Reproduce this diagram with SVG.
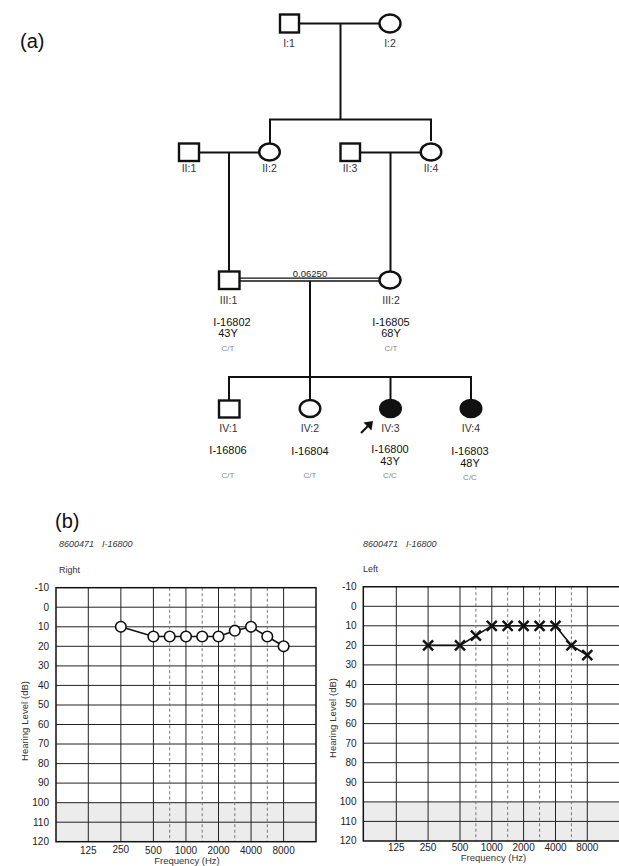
<svg xmlns="http://www.w3.org/2000/svg" width="619" height="866" viewBox="0 0 619 866">
<style>
text{font-family:"Liberation Sans",Arial,sans-serif}
.pl{stroke:#111;stroke-width:2;fill:none}
.sym{stroke:#111;stroke-width:2.4;fill:#fff}
.aff{stroke:#111;stroke-width:2;fill:#111}
.gl{font-size:10.5px;fill:#333;text-anchor:middle}
.id{font-size:11px;fill:#111;text-anchor:middle}
.gt{font-size:8px;fill:#888;text-anchor:middle}
.panel{font-size:20px;fill:#111}
.hdr{font-size:9px;fill:#333;font-style:italic}
.side{font-size:9px;fill:#333}
.tk{font-size:10px;fill:#222;text-anchor:end}
.fq{font-size:10px;fill:#222;text-anchor:middle}
.ax{font-size:9.5px;fill:#333;text-anchor:middle}
.grid{stroke:#222;stroke-width:1}
.dash{stroke:#777;stroke-width:1;stroke-dasharray:3,2.5}
.frame{fill:none;stroke:#111;stroke-width:1.5}
.shade{fill:#ececec}
.curve{stroke:#111;stroke-width:1.6;fill:none}
.oc{fill:#fff;stroke:#111;stroke-width:1.6}
.xm{stroke:#111;stroke-width:2.4;fill:none}
</style>
<defs>
<g id="xmark"><path class="xm" d="M-5,-5L5,5M-5,5L5,-5"/></g>
</defs>

<text class="panel" x="20" y="48">(a)</text>
<text class="panel" x="55" y="528">(b)</text>

<g id="connectors">
<path class="pl" d="M299,23.5H379"/>
<path class="pl" d="M340.5,23.5V119.5"/>
<path class="pl" d="M270,143V119.5H431V141"/>
<path class="pl" d="M199,152.5H259"/>
<path class="pl" d="M229,152.5V271"/>
<path class="pl" d="M360,152.5H420"/>
<path class="pl" d="M390.5,152.5V271"/>
<path stroke="#111" stroke-width="1.3" fill="none" d="M240,278.2H379.5M240,281H379.5"/>
<path class="pl" d="M310,281V377"/>
<path class="pl" d="M229,400V377H471V400"/>
<path class="pl" d="M310,377V400"/>
<path class="pl" d="M390.5,377V400"/>
<path stroke="#111" stroke-width="2.2" fill="none" d="M361,433L369,425"/>
<path fill="#111" d="M373,421L371.5,430.5L363.5,422.5Z"/>
</g>
<text x="310" y="277" style="font-size:9.5px;fill:#222;text-anchor:middle">0.06250</text>

<g id="I1"><rect class="sym" x="280" y="14.5" width="19" height="18"/><text class="gl" x="289" y="47">I:1</text></g>
<g id="I2"><ellipse class="sym" cx="390" cy="23.5" rx="10.5" ry="9"/><text class="gl" x="390" y="47">I:2</text></g>
<g id="II1"><rect class="sym" x="179" y="143.5" width="20" height="17.5"/><text class="gl" x="189" y="172">II:1</text></g>
<g id="II2"><ellipse class="sym" cx="269.5" cy="152" rx="10.3" ry="8.5"/><text class="gl" x="269.5" y="172">II:2</text></g>
<g id="II3"><rect class="sym" x="340.5" y="143.5" width="19.5" height="17.5"/><text class="gl" x="350" y="172">II:3</text></g>
<g id="II4"><ellipse class="sym" cx="431" cy="152" rx="10.3" ry="8.5"/><text class="gl" x="431" y="172">II:4</text></g>
<g id="III1"><rect class="sym" x="219" y="271.5" width="20.5" height="17.5"/><text class="gl" x="228.5" y="304">III:1</text>
<text class="id" x="232" y="325.5">I-16802</text><text class="id" x="228" y="337">43Y</text><text class="gt" x="228" y="351">C/T</text></g>
<g id="III2"><ellipse class="sym" cx="390" cy="280" rx="10.5" ry="8.5"/><text class="gl" x="391" y="304">III:2</text>
<text class="id" x="391" y="325.5">I-16805</text><text class="id" x="391" y="337">68Y</text><text class="gt" x="391" y="351">C/T</text></g>
<g id="IV1"><rect class="sym" x="219" y="400.5" width="20.5" height="17"/><text class="gl" x="228.5" y="432">IV:1</text>
<text class="id" x="228" y="454">I-16806</text><text class="gt" x="228" y="478">C/T</text></g>
<g id="IV2"><ellipse class="sym" cx="310" cy="408.5" rx="10.3" ry="8.5"/><text class="gl" x="310" y="432">IV:2</text>
<text class="id" x="310" y="455">I-16804</text><text class="gt" x="310" y="478">C/T</text></g>
<g id="IV3"><ellipse class="aff" cx="390.5" cy="408.5" rx="10.5" ry="8.8"/><text class="gl" x="390.5" y="432">IV:3</text>
<text class="id" x="390" y="453">I-16800</text><text class="id" x="390" y="465">43Y</text><text class="gt" x="390" y="478">C/C</text></g>
<g id="IV4"><ellipse class="aff" cx="471" cy="408.5" rx="10.5" ry="8.8"/><text class="gl" x="471" y="432">IV:4</text>
<text class="id" x="470" y="455">I-16803</text><text class="id" x="470" y="467">48Y</text><text class="gt" x="470" y="480">C/C</text></g>

<g id="audiogram-right">
<text class="hdr" x="59" y="547">8600471<tspan dx="8">I-16800</tspan></text>
<text class="side" x="59" y="573">Right</text>
<rect class="shade" x="56" y="802.7" width="260" height="39"/>
<g class="grid">
<path d="M56,607.2H316M56,626.8H316M56,646.3H316M56,665.9H316M56,685.4H316M56,705H316M56,724.5H316M56,744H316M56,763.6H316M56,783.1H316M56,802.7H316M56,822.2H316"/>
<path d="M88.3,587.7V841.7M120.85,587.7V841.7M153.4,587.7V841.7M185.95,587.7V841.7M218.5,587.7V841.7M251.05,587.7V841.7M283.6,587.7V841.7"/>
</g>
<path class="dash" d="M169.7,587.7V841.7M202.2,587.7V841.7M234.8,587.7V841.7M267.3,587.7V841.7"/>
<rect class="frame" x="56" y="587.7" width="260" height="254"/>
<g>
<text class="tk" x="49" y="591">-10</text><text class="tk" x="49" y="610.5">0</text><text class="tk" x="49" y="630">10</text>
<text class="tk" x="49" y="649.6">20</text><text class="tk" x="49" y="669.2">30</text><text class="tk" x="49" y="688.7">40</text>
<text class="tk" x="49" y="708.3">50</text><text class="tk" x="49" y="727.8">60</text><text class="tk" x="49" y="747.3">70</text>
<text class="tk" x="49" y="766.9">80</text><text class="tk" x="49" y="786.4">90</text><text class="tk" x="49" y="806">100</text>
<text class="tk" x="49" y="825.5">110</text><text class="tk" x="49" y="845">120</text>
</g>
<g>
<text class="fq" x="88.3" y="854">125</text><text class="fq" x="120.85" y="852.5">250</text><text class="fq" x="153.4" y="854">500</text>
<text class="fq" x="185.95" y="854">1000</text><text class="fq" x="218.5" y="854">2000</text><text class="fq" x="251.05" y="854">4000</text>
<text class="fq" x="283.6" y="854">8000</text>
</g>
<text class="ax" x="187" y="864">Frequency (Hz)</text>
<text class="ax" transform="translate(28,721) rotate(-90)">Hearing<tspan dx="3">Level</tspan><tspan dx="3">(dB)</tspan></text>
<polyline class="curve" points="120.85,626.8 153.4,636.5 169.7,636.5 186,636.5 202.2,636.5 218.5,636.5 234.8,630.7 251,626.8 267.3,636.5 283.6,646.3"/>
<g>
<circle class="oc" cx="120.85" cy="626.8" r="5.3"/><circle class="oc" cx="153.4" cy="636.5" r="5.3"/>
<circle class="oc" cx="169.7" cy="636.5" r="5.3"/><circle class="oc" cx="186" cy="636.5" r="5.3"/>
<circle class="oc" cx="202.2" cy="636.5" r="5.3"/><circle class="oc" cx="218.5" cy="636.5" r="5.3"/>
<circle class="oc" cx="234.8" cy="630.7" r="5.3"/><circle class="oc" cx="251" cy="626.8" r="5.3"/>
<circle class="oc" cx="267.3" cy="636.5" r="5.3"/><circle class="oc" cx="283.6" cy="646.3" r="5.3"/>
</g>
</g>

<g id="audiogram-left">
<text class="hdr" x="363" y="547">8600471<tspan dx="8">I-16800</tspan></text>
<text class="side" x="363" y="572">Left</text>
<rect class="shade" x="363.3" y="802.3" width="256" height="38.7"/>
<g class="grid">
<path d="M363.3,606.3H619M363.3,625.8H619M363.3,645.4H619M363.3,664.9H619M363.3,684.5H619M363.3,704H619M363.3,723.6H619M363.3,743.2H619M363.3,762.7H619M363.3,782.3H619M363.3,801.9H619M363.3,821.4H619"/>
<path d="M396.3,586.7V841M428.1,586.7V841M460,586.7V841M491.8,586.7V841M523.6,586.7V841M555.5,586.7V841M587.3,586.7V841"/>
</g>
<path class="dash" d="M475.9,586.7V841M507.7,586.7V841M539.6,586.7V841M571.4,586.7V841"/>
<path class="frame" d="M619,586.7H363.3V841H619"/>
<g>
<text class="tk" x="356.5" y="590">-10</text><text class="tk" x="356.5" y="609.6">0</text><text class="tk" x="356.5" y="629.1">10</text>
<text class="tk" x="356.5" y="648.7">20</text><text class="tk" x="356.5" y="668.2">30</text><text class="tk" x="356.5" y="687.8">40</text>
<text class="tk" x="356.5" y="707.3">50</text><text class="tk" x="356.5" y="726.9">60</text><text class="tk" x="356.5" y="746.5">70</text>
<text class="tk" x="356.5" y="766">80</text><text class="tk" x="356.5" y="785.6">90</text><text class="tk" x="356.5" y="805.2">100</text>
<text class="tk" x="356.5" y="824.7">110</text><text class="tk" x="356.5" y="844.3">120</text>
</g>
<g>
<text class="fq" x="396.3" y="850.5">125</text><text class="fq" x="428.1" y="850.5">250</text><text class="fq" x="460" y="850.5">500</text>
<text class="fq" x="491.8" y="850.5">1000</text><text class="fq" x="523.6" y="850.5">2000</text><text class="fq" x="555.5" y="850.5">4000</text>
<text class="fq" x="587.3" y="850.5">8000</text>
</g>
<text class="ax" x="493.5" y="861">Frequency (Hz)</text>
<text class="ax" transform="translate(336,718) rotate(-90)">Hearing<tspan dx="3">Level</tspan><tspan dx="3">(dB)</tspan></text>
<polyline class="curve" points="428.1,645.4 460,645.4 475.9,635.6 491.8,625.8 507.7,625.8 523.6,625.8 539.6,625.8 555.5,625.8 571.4,645.4 587.3,655.2"/>
<use href="#xmark" x="428.1" y="645.4"/><use href="#xmark" x="460" y="645.4"/><use href="#xmark" x="475.9" y="635.6"/>
<use href="#xmark" x="491.8" y="625.8"/><use href="#xmark" x="507.7" y="625.8"/><use href="#xmark" x="523.6" y="625.8"/>
<use href="#xmark" x="539.6" y="625.8"/><use href="#xmark" x="555.5" y="625.8"/><use href="#xmark" x="571.4" y="645.4"/>
<use href="#xmark" x="587.3" y="655.2"/>
</g>
</svg>
